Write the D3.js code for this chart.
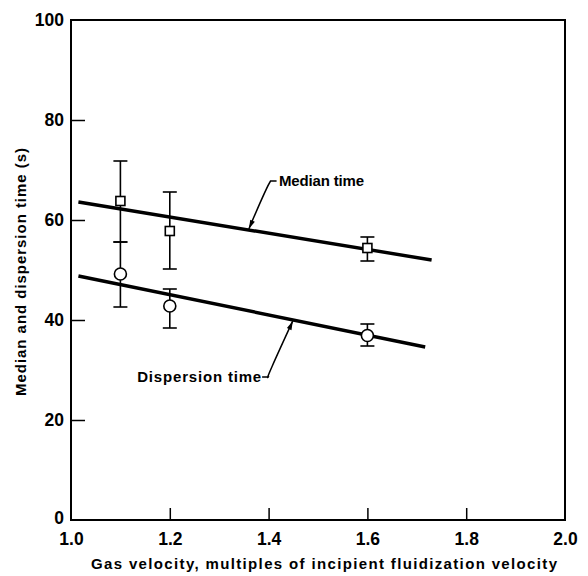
<!DOCTYPE html>
<html><head><meta charset="utf-8">
<script src="https://cdn.jsdelivr.net/npm/d3@7"></script>
<style>body{margin:0;background:#fff}svg{display:block}text{font-family:"Liberation Sans",Arial,sans-serif;font-weight:bold;fill:#000}</style>
</head><body><svg id="c" width="588" height="576"></svg>
<script>
const velocity = [1.1, 1.2, 1.6];
const medianTime = [63.8, 57.8, 54.4];
const medianLow = [55.6, 50.2, 51.8];
const medianHigh = [71.8, 65.6, 56.6];
const dispersionTime = [49.2, 42.8, 36.9];
const dispersionLow = [42.6, 38.4, 34.8];
const dispersionHigh = [55.6, 46.2, 39.2];
const medianFitX = [1.015, 1.73];
const medianFitY = [63.6, 52.0];
const dispersionFitX = [1.015, 1.717];
const dispersionFitY = [48.8, 34.6];
const xTicks = [1.0, 1.2, 1.4, 1.6, 1.8, 2.0];
const yTicks = [0, 20, 40, 60, 80, 100];

const svg = d3.select("#c");
const x = d3.scaleLinear().domain([1, 2]).range([71, 565]);
const y = d3.scaleLinear().domain([0, 100]).range([520, 20]);

// frame
svg.append("rect").attr("x", x(1)).attr("y", y(100)).attr("width", x(2) - x(1)).attr("height", y(0) - y(100))
  .attr("fill", "none").attr("stroke", "#000").attr("stroke-width", 2);

// y axis
const ya = svg.append("g").attr("transform", `translate(${x(1)},0)`)
  .call(d3.axisRight(y).tickValues(yTicks).tickSize(14).tickFormat(d3.format("d")));
ya.select(".domain").remove();
ya.selectAll("line").attr("stroke-width", 1.5);
ya.selectAll("text").attr("x", -7).attr("text-anchor", "end").attr("font-size", 17.5).attr("dy", "0.34em");
ya.selectAll(".tick").filter(d => d === 0 || d === 100).select("line").remove();
ya.selectAll(".tick").filter(d => d === 0).select("text").attr("dy", "0.2em");

// x axis
const xa = svg.append("g").attr("transform", `translate(0,${y(0)})`)
  .call(d3.axisTop(x).tickValues(xTicks).tickSize(12).tickFormat(d3.format(".1f")));
xa.select(".domain").remove();
xa.selectAll("line").attr("stroke-width", 1.5);
xa.selectAll("text").attr("y", 25).attr("dy", 0).attr("font-size", 17.5);
xa.selectAll(".tick").filter(d => d === 1 || d === 2).select("line").remove();
svg.selectAll(".tick text").style("font-family", "Liberation Sans, Arial, sans-serif").style("font-weight", "bold");

// axis titles
svg.append("text").attr("x", 324).attr("y", 569).attr("text-anchor", "middle").attr("font-size", 15)
  .attr("textLength", 466).attr("lengthAdjust", "spacing")
  .text("Gas velocity, multiples of incipient fluidization velocity");
svg.append("text").attr("transform", "translate(26,272) rotate(-90)").attr("text-anchor", "middle").attr("font-size", 15)
  .attr("textLength", 248).attr("lengthAdjust", "spacing")
  .text("Median and dispersion time (s)");

// fitted lines
const line = d3.line().x(d => x(d[0])).y(d => y(d[1]));
svg.append("path").datum(d3.zip(medianFitX, medianFitY)).attr("d", line)
  .attr("stroke", "#000").attr("stroke-width", 3.4).attr("fill", "none");
svg.append("path").datum(d3.zip(dispersionFitX, dispersionFitY)).attr("d", line)
  .attr("stroke", "#000").attr("stroke-width", 3.4).attr("fill", "none");

// error bars
function errBars(lo, hi) {
  velocity.forEach((v, i) => {
    const g = svg.append("g").attr("stroke", "#000").attr("stroke-width", 1.6);
    g.append("line").attr("x1", x(v)).attr("x2", x(v)).attr("y1", y(lo[i])).attr("y2", y(hi[i]));
    [lo[i], hi[i]].forEach(val => g.append("line").attr("x1", x(v) - 7).attr("x2", x(v) + 7).attr("y1", y(val)).attr("y2", y(val)));
  });
}
errBars(medianLow, medianHigh);
errBars(dispersionLow, dispersionHigh);

// markers
svg.selectAll(".sq").data(d3.zip(velocity, medianTime)).join("rect")
  .attr("x", d => x(d[0]) - 4.5).attr("y", d => y(d[1]) - 4.5).attr("width", 9).attr("height", 9)
  .attr("fill", "#fff").attr("stroke", "#000").attr("stroke-width", 1.6);
svg.selectAll(".ci").data(d3.zip(velocity, dispersionTime)).join("circle")
  .attr("cx", d => x(d[0])).attr("cy", d => y(d[1])).attr("r", 6)
  .attr("fill", "#fff").attr("stroke", "#000").attr("stroke-width", 1.6);

// annotations
function interp(xs, ys, xv) { return ys[0] + (ys[1] - ys[0]) * (xv - xs[0]) / (xs[1] - xs[0]); }
function leader(sx, sy, tx, ty, dashDir) {
  const p = d3.path();
  p.moveTo(sx + dashDir * 6, sy);
  p.lineTo(sx, sy);
  p.quadraticCurveTo(sx - 4, sy + 6, tx, ty);
  svg.append("path").attr("d", p.toString()).attr("fill", "none").attr("stroke", "#000").attr("stroke-width", 1.5);
  const ang = Math.atan2(ty - sy, tx - sx);
  const L = 9, W = 2.5;
  const bx = tx - L * Math.cos(ang), by = ty - L * Math.sin(ang);
  svg.append("path").attr("d", `M${tx},${ty}L${bx + W * Math.sin(ang)},${by - W * Math.cos(ang)}L${bx - W * Math.sin(ang)},${by + W * Math.cos(ang)}Z`).attr("fill", "#000");
}
const mTip = 1.36, dTip = 1.449;
leader(x(1.404), y(67.8), x(mTip), y(interp(medianFitX, medianFitY, mTip)) - 1, 1);
svg.append("text").attr("x", x(1.421)).attr("y", y(67.8) + 5).attr("font-size", 15)
  .attr("textLength", 85).attr("lengthAdjust", "spacing").text("Median time");
leader(x(1.399), y(28.6), x(dTip), y(interp(dispersionFitX, dispersionFitY, dTip)) + 1, -1);
svg.append("text").attr("x", x(1.385)).attr("y", y(28.6) + 5).attr("text-anchor", "end").attr("font-size", 15)
  .attr("textLength", 124).attr("lengthAdjust", "spacing").text("Dispersion time");
</script></body></html>
